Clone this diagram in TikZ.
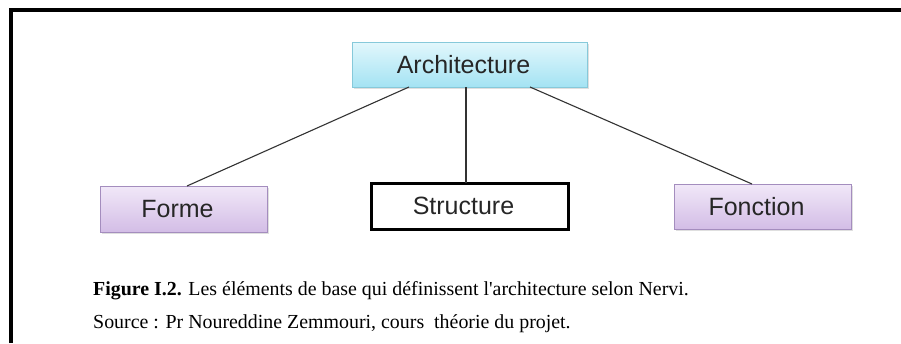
\documentclass[tikz,border=0pt]{standalone}
\usepackage{fontspec}
\setmainfont{Liberation Serif}
\newfontfamily\capfont{Liberation Serif}
\newfontfamily\boxfont{Liberation Sans}
\usetikzlibrary{calc,shadows}
\definecolor{archtop}{HTML}{E2F7FC}
\definecolor{archbot}{HTML}{A4E3F3}
\definecolor{archdraw}{HTML}{86C9DA}
\definecolor{lavtop}{HTML}{F1E8F8}
\definecolor{lavbot}{HTML}{D3BDE6}
\definecolor{lavdraw}{HTML}{A48DBE}
\definecolor{linkcol}{HTML}{333333}
\tikzset{
  px/.style={x=1pt,y=-1pt},
  boxlabel/.style={font=\boxfont\fontsize{25}{27}\selectfont, text=black!85},
  archbox/.style={draw=archdraw, line width=1pt, top color=archtop, bottom color=archbot,
     drop shadow={shadow xshift=1.5pt, shadow yshift=-1.5pt, opacity=0.25}},
  lavbox/.style={draw=lavdraw, line width=1pt, top color=lavtop, bottom color=lavbot,
     drop shadow={shadow xshift=1.5pt, shadow yshift=-1.5pt, opacity=0.25}},
  whitebox/.style={draw=black, line width=3pt, fill=white},
  link/.style={draw=linkcol, line width=1.1pt},
  caption/.style={font=\capfont\fontsize{19.9}{22}\selectfont, anchor=base west, inner sep=0pt},
}
\begin{document}
\begin{tikzpicture}[px]
\useasboundingbox (0,0) rectangle (901,343);
\fill[white] (0,0) rectangle (901,343);
% frame
\draw[line width=4pt, line cap=butt, line join=miter] (10.5,343) -- (10.5,10) -- (901,10);
% boxes
\path[archbox] (352,42) rectangle (587,87);
\node[boxlabel] (arch) at (469.5,64.5) {\hspace*{-12pt}Architecture};
\coordinate (archS) at (469.5,87);
\path[lavbox] (100,186) rectangle (267,232);
\node[boxlabel] (forme) at (183.5,209) {\hspace*{-12pt}Forme};
\coordinate (formeN) at (183.5,186);
\path[whitebox] (371,183) rectangle (568,229);
\node[boxlabel] (struct) at (469.5,206) {\hspace*{-12pt}Structure};
\coordinate (structN) at (469.5,183);
\path[lavbox] (674,184) rectangle (851,229);
\node[boxlabel] (fonc) at (762.5,206.5) {\hspace*{-12pt}Fonction};
\coordinate (foncN) at (762.5,184);
% links
\draw[link] ([xshift=-60.5pt]archS) -- ([xshift=3.5pt]formeN);
\draw[link] ([xshift=-3.5pt]archS) -- ([xshift=-3.5pt]structN);
\draw[link] ([xshift=60.5pt]archS) -- ([xshift=-10.5pt]foncN);
% caption
\node[caption] (cap1) at (93,295) {\textbf{Figure I.2.} Les éléments de base qui définissent l'architecture selon Nervi.};
\node[caption] (cap2) at (93,328) {Source : Pr Noureddine Zemmouri, cours\ \ théorie du projet.};
\end{tikzpicture}
\end{document}
